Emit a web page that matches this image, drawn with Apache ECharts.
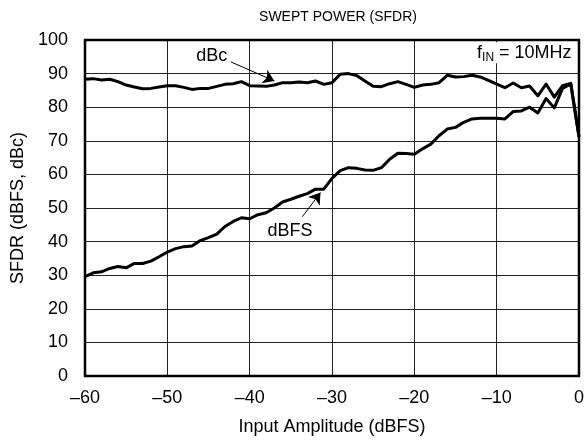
<!DOCTYPE html>
<html>
<head>
<meta charset="utf-8">
<script src="https://cdn.jsdelivr.net/npm/echarts@6/dist/echarts.min.js"></script>
<style>html,body{margin:0;padding:0;background:#fff}#c{width:587px;height:443px}</style>
</head>
<body>
<div id="c"></div>
<script>
const inputAmp = [-60,-59,-58,-57,-56,-55,-54,-53,-52,-51,-50,-49,-48,-47,-46,-45,-44,-43,-42,-41,-40,-39,-38,-37,-36,-35,-34,-33,-32,-31,-30,-29,-28,-27,-26,-25,-24,-23,-22,-21,-20,-19,-18,-17,-16,-15,-14,-13,-12,-11,-10,-9,-8,-7,-6,-5,-4,-3,-2,-1,0];
const sfdrDBc = [88.3,88.5,88.1,88.3,87.6,86.6,86.0,85.5,85.6,86.0,86.4,86.4,85.9,85.3,85.6,85.6,86.2,86.8,87.0,87.6,86.4,86.3,86.2,86.6,87.3,87.3,87.5,87.3,87.8,86.8,87.3,89.8,90.0,89.4,87.8,86.2,86.1,87.0,87.6,86.8,85.9,86.6,86.8,87.3,89.5,89.0,89.1,89.5,89.0,88.0,86.9,85.8,87.2,85.8,86.3,83.4,86.9,83.0,86.4,87.1,71.2];
const sfdrDBFS = [29.6,30.7,31.0,32.0,32.6,32.2,33.5,33.5,34.2,35.5,36.9,37.9,38.5,38.7,40.3,41.2,42.2,44.5,46.0,47.1,46.8,48.0,48.6,50.0,51.8,52.6,53.5,54.3,55.6,55.6,58.8,61.1,62.0,61.8,61.3,61.2,62.0,64.5,66.3,66.2,66.0,67.6,69.0,71.5,73.5,74.0,75.5,76.5,76.7,76.7,76.7,76.5,78.7,78.9,80.0,78.3,82.6,79.8,85.6,86.9,71.2];
const xTicks = [-60,-50,-40,-30,-20,-10,0];
const yTicks = [0,10,20,30,40,50,60,70,80,90,100];

const FONT = '"Liberation Sans", Arial, sans-serif';
const FS = 18;
const chart = echarts.init(document.getElementById('c'), null, {renderer: 'canvas'});
const pairs = (ys) => inputAmp.map((x, i) => [x, ys[i]]);
const lineSeries = (name, ys, extra) => Object.assign({
  name, type: 'line', data: pairs(ys), showSymbol: false, symbol: 'none',
  lineStyle: {color: '#000', width: 3, join: 'round'}, z: 5, animation: false
}, extra || {});

const arrowStyle = {color: '#000', width: 1, type: 'solid', opacity: 1};
chart.setOption({
  animation: false,
  title: {
    text: 'SWEPT POWER (SFDR)', left: 333, top: 5, textAlign: 'center',
    textStyle: {fontFamily: FONT, fontSize: 14, fontWeight: 'normal', color: '#000'}
  },
  grid: {left: 85, right: 5, top: 40, bottom: 67, show: true, borderColor: '#000', borderWidth: 2.5, z: 10},
  xAxis: {
    type: 'value', min: -60, max: 0, interval: 10,
    name: 'Input Amplitude (dBFS)', nameLocation: 'middle', nameGap: 42,
    nameTextStyle: {fontFamily: FONT, fontSize: FS, color: '#000'},
    axisLine: {show: false}, axisTick: {show: false},
    axisLabel: {margin: 13, fontFamily: FONT, fontSize: FS, color: '#000',
      formatter: v => xTicks.includes(v) ? String(v).replace('-', '\u2013') : ''},
    splitLine: {show: true, lineStyle: {color: '#222', width: 1}}
  },
  yAxis: {
    type: 'value', min: 0, max: 100, interval: 10,
    name: 'SFDR (dBFS, dBc)', nameLocation: 'middle', nameGap: 58, nameRotate: 90,
    nameTextStyle: {fontFamily: FONT, fontSize: FS, color: '#000'},
    axisLine: {show: false}, axisTick: {show: false},
    axisLabel: {margin: 17, fontFamily: FONT, fontSize: FS, color: '#000',
      formatter: v => yTicks.includes(v) ? String(v) : ''},
    splitLine: {show: true, lineStyle: {color: '#222', width: 1}}
  },
  series: [
    lineSeries('dBc', sfdrDBc, {
      markLine: {silent: true, symbol: ['none', 'arrow'], symbolSize: 11, label: {show: false},
        lineStyle: arrowStyle, itemStyle: {color: '#000'}, emphasis: {disabled: true}, animation: false,
        data: [[{coord: [-42.3, 93.5]}, {coord: [-37.0, 87.8]}]]}
    }),
    lineSeries('dBFS', sfdrDBFS, {
      markLine: {silent: true, symbol: ['none', 'arrow'], symbolSize: 11, label: {show: false},
        lineStyle: arrowStyle, itemStyle: {color: '#000'}, emphasis: {disabled: true}, animation: false,
        data: [[{coord: [-33.6, 47.4]}, {coord: [-31.4, 54.6]}]]}
    })
  ]
});

const p1 = chart.convertToPixel({gridIndex: 0}, [-44.6, 95.2]);
const p2 = chart.convertToPixel({gridIndex: 0}, [-35.1, 43.2]);
const p3 = chart.convertToPixel({gridIndex: 0}, [-0.9, 96.2]);
chart.setOption({
  graphic: [
    {type: 'text', x: p1[0], y: p1[1], z: 20, style: {text: 'dBc', fontFamily: FONT, fontSize: FS, fill: '#000', align: 'center', verticalAlign: 'middle', backgroundColor: '#fff'}},
    {type: 'text', x: p2[0], y: p2[1], z: 20, style: {text: 'dBFS', fontFamily: FONT, fontSize: FS, fill: '#000', align: 'center', verticalAlign: 'middle', backgroundColor: '#fff'}},
    {type: 'text', x: p3[0], y: p3[1], z: 20, style: {
      text: '{a|f}{s|IN}{a| = 10MHz}', align: 'right', verticalAlign: 'middle', backgroundColor: '#fff',
      rich: {a: {fontFamily: FONT, fontSize: FS, color: '#000'},
             s: {fontFamily: FONT, fontSize: 12, color: '#000', padding: [9, 0, 0, 0]}}
    }}
  ]
});
</script>
</body>
</html>
